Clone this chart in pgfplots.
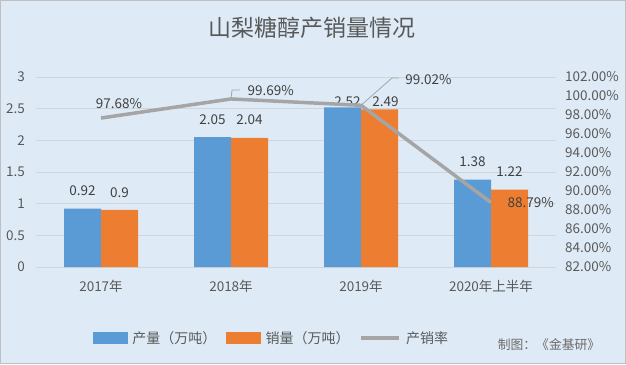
\documentclass[border=0pt]{standalone}
\usepackage{pgfplots}
\usepackage{pgfplotstable}
\pgfplotsset{compat=1.18}
\usepackage{fontspec}
\setmainfont{Noto Sans CJK SC}
\definecolor{bg}{HTML}{DEEBF7}
\definecolor{cblue}{HTML}{5B9BD5}
\definecolor{corange}{HTML}{ED7D31}
\definecolor{cgray}{HTML}{A5A5A5}
\definecolor{txt}{HTML}{595959}
\definecolor{lbl}{HTML}{404040}
\definecolor{gridc}{HTML}{D0D5DB}
\definecolor{frame}{HTML}{BFBFBF}

\pgfplotstableread{
x y xs ys
0 0.92 0 9.2
1 2.05 0 9.2
2 2.52 5 -3.3
3 1.38 0 9.2
}\prodtable
\pgfplotstableread{
x y xs ys
0 0.90 0 9.2
1 2.04 0 9.2
2 2.49 6 -1.3
3 1.22 0 9.2
}\salestable
\pgfplotstableread{
x y
0 97.68
1 99.69
2 99.02
3 88.79
}\ratetable

\begin{document}
\begin{tikzpicture}[x=1pt,y=1pt]
\fill[bg] (0,0) rectangle (626,364);
\draw[frame, line width=1pt] (0.5,0.5) rectangle (625.5,363.5);
\node[txt, font=\fontsize{23}{27}\selectfont] at (312,336) {山梨糖醇产销量情况};
\node[txt!90!white, font=\fontsize{12.8}{15}\selectfont] at (549,19) {制图：《金基研》};

\begin{axis}[
  at={(36pt,97pt)}, anchor=south west,
  scale only axis, width=520pt, height=190pt,
  xmin=-0.5, xmax=3.5, ymin=0, ymax=3,
  axis line style={draw=none},
  major tick length=0pt,
  ytick={0,0.5,1,1.5,2,2.5,3},
  ymajorgrids, grid style={gridc, line width=0.8pt},
  xtick={0,1,2,3},
  xticklabels={2017年,2018年,2019年,2020年上半年},
  tick label style={txt, font=\fontsize{13.5}{16}\selectfont},
  /pgf/number format/assume math mode=true,
  yticklabel style={xshift=-7.7pt},
  xticklabel style={yshift=-10pt},
  ybar, bar width=37pt,
  nodes near coords,
  visualization depends on={\thisrow{ys} \as \ys},
  visualization depends on={\thisrow{xs} \as \xs},
  every node near coord/.append style={lbl, font=\fontsize{13.5}{16}\selectfont, yshift=\ys pt, xshift=\xs pt},
  clip=false,
]
\addplot[fill=cblue, draw=none, bar shift=-18.5pt] table[x=x,y=y] {\prodtable};
\addplot[fill=corange, draw=none, bar shift=18.5pt] table[x=x,y=y] {\salestable};
\end{axis}

\begin{axis}[
  at={(36pt,97pt)}, anchor=south west,
  scale only axis, width=520pt, height=190pt,
  xmin=-0.5, xmax=3.5, ymin=82, ymax=102,
  axis y line*=right, hide x axis,
  axis line style={draw=none},
  major tick length=0pt,
  ytick={82,84,...,102},
  yticklabel={\pgfmathprintnumber[fixed,fixed zerofill,precision=2,assume math mode=true]{\tick}\%},
  tick label style={txt, font=\fontsize{13.5}{16}\selectfont},
  yticklabel style={xshift=5.7pt},
  clip=false,
  legend columns=3,
  legend style={at={(0.453,-0.374)}, anchor=center, draw=none, fill=none,
    font=\fontsize{14}{16}\selectfont, text=txt,
    /tikz/every odd column/.append style={column sep=3pt},
    /tikz/every even column/.append style={column sep=8pt}},
]
\addlegendimage{legend image code/.code={\fill[cblue] (0pt,-5.5pt) rectangle (34pt,5.5pt);}}
\addlegendentry{产量（万吨）}
\addlegendimage{legend image code/.code={\fill[corange] (0pt,-5.5pt) rectangle (34pt,5.5pt);}}
\addlegendentry{销量（万吨）}
\addlegendimage{legend image code/.code={\draw[cgray, line width=3.5pt] (0pt,0pt) -- (38pt,0pt);}}
\addlegendentry{产销率}
\addplot[cgray, line width=3.5pt, line join=round, mark=none, forget plot] table[x=x,y=y] {\ratetable};
\draw[cgray, line width=0.8pt] (axis cs:1,99.69) -- (axis cs:1.008,100.63) -- (axis cs:1.069,100.63);
\draw[cgray, line width=0.8pt] (axis cs:2,99.02) -- (axis cs:2.238,101.89) -- (axis cs:2.292,101.89);
\node[lbl, font=\fontsize{13.5}{16}\selectfont] at (axis cs:0.138,99.16) {97.68\%};
\node[lbl, font=\fontsize{13.5}{16}\selectfont, anchor=west] at (axis cs:1.1,100.53) {99.69\%};
\node[lbl, font=\fontsize{13.5}{16}\selectfont, anchor=west] at (axis cs:2.315,101.68) {99.02\%};
\node[lbl, font=\fontsize{13.5}{16}\selectfont, anchor=west] at (axis cs:3.1,88.74) {88.79\%};
\end{axis}
\end{tikzpicture}
\end{document}
